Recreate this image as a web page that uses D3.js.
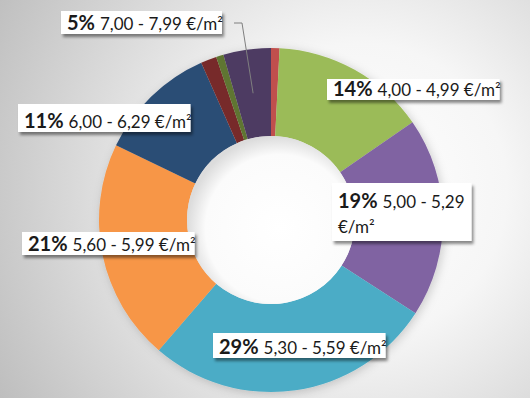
<!DOCTYPE html>
<html>
<head>
<meta charset="utf-8">
<script src="https://cdn.jsdelivr.net/npm/d3@7"></script>
<style>
  html, body { margin: 0; padding: 0; }
  svg { display: block; font-family: Lato, "Open Sans", sans-serif; }
</style>
</head>
<body>
<figure id="donut" style="margin:0"></figure>
<script>
// price bands (€/m²), clockwise from 12 o'clock
const categories = ["< 4,00", "4,00 - 4,99", "5,00 - 5,29", "5,30 - 5,59", "5,60 - 5,99",
                    "6,00 - 6,29", "6,30 - 6,59", "6,60 - 6,99", "7,00 - 7,99"];
// share of each band
const values = [0.8, 14.7, 18.9, 27.4, 21.0, 11.3, 1.5, 0.7, 4.5];
const colors = ["#c0504d", "#9bbb59", "#8064a2", "#4bacc6", "#f79646",
                "#2c4d75", "#772c2a", "#5f7530", "#4d3b62"];
// labels as printed on the chart
const pctLabels = ["", "14%", "19%", "29%", "21%", "11%", "", "", "5%"];
const rangeLabels = ["", "4,00 - 4,99 €/m²", "5,00 - 5,29|€/m²", "5,30 - 5,59 €/m²",
                     "5,60 - 5,99 €/m²", "6,00 - 6,29 €/m²", "", "", "7,00 - 7,99 €/m²"];

const width = 530, height = 398;
const cx = 271, cy = 220, outerR = 172, innerR = 84;

// label box placement (left, top, height) - dragged by hand in the original
const boxPos = {
  1: [327, 79, 21],
  2: [332, 183, 58],
  3: [213, 333, 25],
  4: [22, 232, 23],
  5: [18, 104, 28],
  8: [61, 11, 23]
};

const svg = d3.select("#donut")
  .append("svg")
  .attr("width", width)
  .attr("height", height);

const defs = svg.append("defs");

const bg = defs.append("radialGradient")
  .attr("id", "bg")
  .attr("gradientUnits", "userSpaceOnUse")
  .attr("cx", 360).attr("cy", 190).attr("r", 420);
bg.append("stop").attr("offset", "0%").attr("stop-color", "#ffffff");
bg.append("stop").attr("offset", "35%").attr("stop-color", "#f6f6f6");
bg.append("stop").attr("offset", "100%").attr("stop-color", "#bdbdbd");

const hole = defs.append("radialGradient")
  .attr("id", "hole")
  .attr("cx", "55%").attr("cy", "55%").attr("r", "55%");
hole.append("stop").attr("offset", "0%").attr("stop-color", "#ffffff");
hole.append("stop").attr("offset", "80%").attr("stop-color", "#fbfbfb");
hole.append("stop").attr("offset", "100%").attr("stop-color", "#dcdcdc");

const shadow = defs.append("filter")
  .attr("id", "shadow")
  .attr("x", "-20%").attr("y", "-20%").attr("width", "140%").attr("height", "160%");
shadow.append("feDropShadow")
  .attr("dx", 2).attr("dy", 3).attr("stdDeviation", 1.8)
  .attr("flood-color", "#000").attr("flood-opacity", 0.45);

const glow = defs.append("filter")
  .attr("id", "glow")
  .attr("x", "-20%").attr("y", "-20%").attr("width", "140%").attr("height", "140%");
glow.append("feDropShadow")
  .attr("dx", 2).attr("dy", 2).attr("stdDeviation", 5)
  .attr("flood-color", "#000").attr("flood-opacity", 0.18);

svg.append("rect")
  .attr("width", width).attr("height", height)
  .attr("fill", "url(#bg)");

const pie = d3.pie().sort(null).value(d => d);
const arcs = pie(values);
const arc = d3.arc().innerRadius(innerR).outerRadius(outerR);
const midArc = d3.arc().innerRadius((innerR + outerR) / 2).outerRadius((innerR + outerR) / 2);

const g = svg.append("g")
  .attr("transform", "translate(" + cx + "," + cy + ")");

g.append("g")
  .attr("filter", "url(#glow)")
  .selectAll("path")
  .data(arcs)
  .enter()
  .append("path")
  .attr("d", arc)
  .attr("fill", (d, i) => colors[i]);

g.append("circle")
  .attr("r", innerR)
  .attr("fill", "url(#hole)");

// leader line for the 5% label, ends in the middle of its slice
const c8 = midArc.centroid(arcs[8]);
g.append("polyline")
  .attr("points", [[234 - cx, 23 - cy], [242 - cx, 23 - cy], [c8[0], c8[1]]].map(p => p.join(",")).join(" "))
  .attr("fill", "none")
  .attr("stroke", "#7f7f7f")
  .attr("stroke-width", 1);

// labels
const labelIdx = Object.keys(boxPos).map(Number);
labelIdx.forEach(i => {
  const [x0, y0, h] = boxPos[i];
  const lg = svg.append("g");
  const box = lg.append("rect")
    .attr("x", x0).attr("y", y0).attr("height", h)
    .attr("fill", "#ffffff")
    .attr("filter", "url(#shadow)");
  const lines = rangeLabels[i].split("|");
  const base = lines.length > 1 ? y0 + 25 : y0 + h - 4;
  const t = lg.append("text")
    .attr("x", x0 + 6)
    .attr("y", base)
    .attr("fill", "#1a1a1a");
  t.append("tspan")
    .attr("font-weight", "bold")
    .attr("font-size", 20)
    .text(pctLabels[i]);
  t.append("tspan")
    .attr("font-size", 17)
    .attr("dx", 5)
    .text(lines[0]);
  let w = t.node().getComputedTextLength();
  if (lines.length > 1) {
    const t2 = lg.append("text")
      .attr("x", x0 + 6)
      .attr("y", base + 25)
      .attr("font-size", 17)
      .attr("fill", "#1a1a1a")
      .text(lines[1]);
    w = Math.max(w, t2.node().getComputedTextLength());
    w += 8;
  }
  box.attr("width", w + 10);
});
</script>
</body>
</html>
